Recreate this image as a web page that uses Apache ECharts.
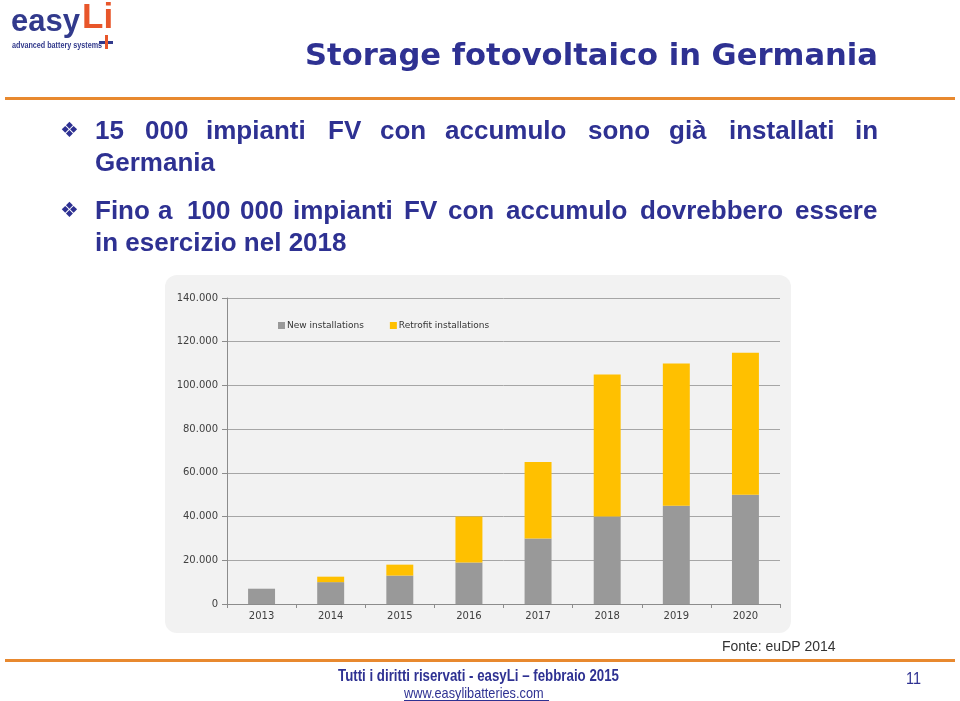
<!DOCTYPE html>
<html><head><meta charset="utf-8">
<script src="https://cdn.jsdelivr.net/npm/echarts@6/dist/echarts.min.js"></script>
<style>html,body{margin:0;padding:0;background:#fff}#c{width:960px;height:701px}</style>
</head><body><div id="c"></div>
<script>
var categories = ['2013','2014','2015','2016','2017','2018','2019','2020'];
var newInstallations = [7000, 10000, 13000, 19000, 30000, 40000, 45000, 50000];
var retrofitInstallations = [0, 2500, 5000, 21000, 35000, 65000, 65000, 65000];
var seriesNames = ['New installations', 'Retrofit installations'];
var yTicks = [0, 20000, 40000, 60000, 80000, 100000, 120000, 140000];

var navy = '#2e3192';
var line1 = [['15',95],['000',145],['impianti',206],['FV',328],['con',380],['accumulo',445],['sono',588],['già',669],['installati',729],['in',855]];
var line3 = [['Fino',95],['a',158],['100',187],['000',240],['impianti',293],['FV',404],['con',448],['accumulo',506],['dovrebbero',640],['essere',795]];

function fmt(v){ return String(v).replace(/\B(?=(\d{3})+(?!\d))/g, '.'); }

var bulletFont = {fontFamily:'Liberation Sans', fontWeight:'bold', fontSize:26, fill:navy};
function bt(txt){ var s = Object.assign({}, bulletFont); s.text = txt; return s; }

var graphics = [];
graphics.push({type:'rect', z:-10, shape:{x:165,y:275,width:626,height:358,r:12}, style:{fill:'#f2f2f2'}});
// logo
graphics.push({type:'text', x:11, y:7, style:{text:'easy', fontFamily:'Liberation Sans', fontWeight:'bold', fontSize:31, fill:'#323a8c'}});
graphics.push({type:'text', x:82, y:1, style:{text:'Li', fontFamily:'Liberation Sans', fontWeight:'bold', fontSize:35, fill:'#e8562a'}});
graphics.push({type:'text', x:12, y:41, scaleX:0.8, style:{text:'advanced battery systems', fontFamily:'Liberation Sans', fontWeight:'bold', fontSize:9, fill:'#323a8c'}});
graphics.push({type:'rect', shape:{x:99,y:41,width:14,height:3}, style:{fill:'#323a8c'}});
graphics.push({type:'rect', shape:{x:105,y:35,width:3,height:14}, style:{fill:'#e8562a'}});
// title
graphics.push({type:'text', x:305, y:42, style:{text:'Storage fotovoltaico in Germania', fontFamily:'DejaVu Sans', fontWeight:'bold', fontSize:30.6, fill:navy}});
// orange rules
graphics.push({type:'rect', shape:{x:5,y:97,width:950,height:3}, style:{fill:'#e8892f'}});
graphics.push({type:'rect', shape:{x:5,y:659,width:950,height:3}, style:{fill:'#e8892f'}});
// bullets
[133, 213].forEach(function(y){
  graphics.push({type:'text', x:60, y:y-12, style:{text:'\u2756', fontFamily:'DejaVu Sans', fontSize:21, fill:navy}});
});
line1.forEach(function(w){ graphics.push({type:'text', x:w[1], y:119, style:bt(w[0])}); });
graphics.push({type:'text', x:95, y:151, style:bt('Germania')});
line3.forEach(function(w){ graphics.push({type:'text', x:w[1], y:199, style:bt(w[0])}); });
graphics.push({type:'text', x:95, y:231, style:bt('in esercizio nel 2018')});
// footer
graphics.push({type:'text', x:722, y:640, style:{text:'Fonte: euDP 2014', fontFamily:'Liberation Sans', fontSize:14, fill:'#333'}});
graphics.push({type:'text', x:338, y:669, scaleX:0.83, style:{text:'Tutti i diritti riservati - easyLi \u2013 febbraio 2015', fontFamily:'Liberation Sans', fontWeight:'bold', fontSize:16, fill:navy}});
graphics.push({type:'text', x:404, y:686, scaleX:0.85, style:{text:'www.easylibatteries.com', fontFamily:'Liberation Sans', fontSize:15, fill:navy}});
graphics.push({type:'rect', shape:{x:404,y:700,width:145,height:1}, style:{fill:navy}});
graphics.push({type:'text', x:906, y:671, scaleX:0.85, style:{text:'11', fontFamily:'Liberation Sans', fontSize:17, fill:navy}});

var chart = echarts.init(document.getElementById('c'), null, {renderer:'canvas'});
chart.setOption({
  animation:false,
  backgroundColor:'#ffffff',
  graphic: graphics,
  legend:{
    left:273, top:316, itemWidth:7, itemHeight:7, itemGap:26, icon:'rect',
    textStyle:{fontFamily:'DejaVu Sans', fontSize:9, color:'#333', padding:[0,0,0,-3]},
    data: seriesNames
  },
  grid:{left:227, right:180, top:298, bottom:97, containLabel:false},
  xAxis:{
    type:'category', data:categories,
    axisLine:{lineStyle:{color:'#8c8c8c'}},
    axisTick:{show:true, length:4, lineStyle:{color:'#8c8c8c'}},
    axisLabel:{fontFamily:'DejaVu Sans', fontSize:10, color:'#404040', margin:7}
  },
  yAxis:{
    type:'value', min:0, max:140000, interval:20000,
    axisLine:{show:true, lineStyle:{color:'#8c8c8c'}},
    axisTick:{show:true, length:5, lineStyle:{color:'#8c8c8c'}},
    splitLine:{lineStyle:{color:'#a6a6a6'}},
    axisLabel:{fontFamily:'DejaVu Sans', fontSize:10, color:'#404040', margin:9,
      formatter:function(v){ return yTicks.indexOf(v) >= 0 ? fmt(v) : ''; }}
  },
  series:[
    {name:seriesNames[0], type:'bar', stack:'a', data:newInstallations, barWidth:'39%', itemStyle:{color:'#999999'}},
    {name:seriesNames[1], type:'bar', stack:'a', data:retrofitInstallations, barWidth:'39%', itemStyle:{color:'#ffc000'}}
  ]
});
</script></body></html>
